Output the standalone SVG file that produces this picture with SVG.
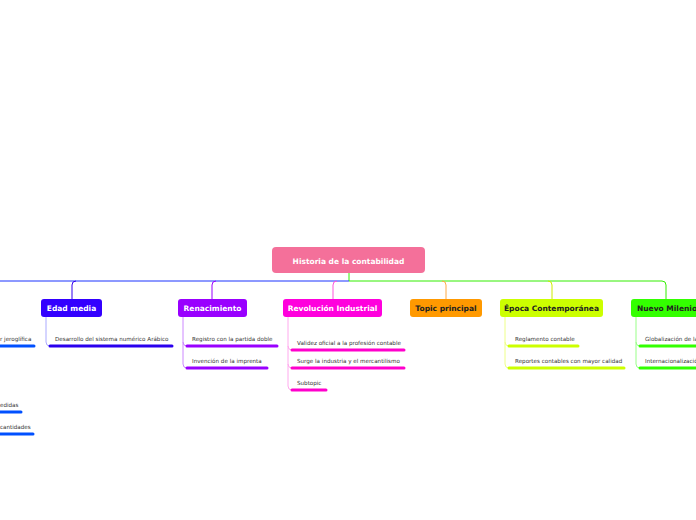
<svg xmlns="http://www.w3.org/2000/svg" width="696" height="520" viewBox="0 0 696 520">
<style>
.n{font-family:"DejaVu Sans",sans-serif;font-weight:bold;font-size:7.5px;text-anchor:middle}
.s{font-family:"DejaVu Sans",sans-serif;font-size:5.6px;fill:#333}
.c{fill:none;stroke-width:1}
.u{fill:none;stroke-width:3;stroke-linecap:round}
</style>
<rect width="696" height="520" fill="#fff"/>
<g id="connectors">
<path class="c" stroke="#33ee00" d="M349 273V281M349 281H662q4 0 4 4V299"/>
<path class="c" stroke="#1a33ff" d="M0 281H349"/>
<path class="c" stroke="#3300ee" d="M76 281q-4 0-4 4V299"/>
<path class="c" stroke="#9900ff" d="M216 281q-4 0-4 4V299"/>
<path class="c" stroke="#ff55dd" d="M337 281q-4 0-4 4V299"/>
<path class="c" stroke="#ffaa44" d="M442 281q4 0 4 4V299"/>
<path class="c" stroke="#ccee00" d="M548 281q4 0 4 4V299"/>
<path class="c" stroke="#aaaaff" d="M46 317V342q0 4 4 4"/>
<path class="u" stroke="#2a00ee" d="M50 346H172"/>
<path class="c" stroke="#cc88ff" d="M183 317V364q0 4 4 4M183 342q0 4 4 4"/>
<path class="u" stroke="#9900ff" d="M187 346H277M187 368H267"/>
<path class="c" stroke="#ffaaee" d="M288 317V386q0 4 4 4M288 346q0 4 4 4M288 364q0 4 4 4"/>
<path class="u" stroke="#ff00cc" d="M292 350H404M292 368H404M292 390H326"/>
<path class="c" stroke="#eeff88" d="M505 317V364q0 4 4 4M505 342q0 4 4 4"/>
<path class="u" stroke="#ccff00" d="M509 346H578M509 368H624"/>
<path class="c" stroke="#99ff88" d="M636 317V364q0 4 4 4M636 342q0 4 4 4"/>
<path class="u" stroke="#33ff00" d="M640 346H700M640 368H700"/>
<path class="u" stroke="#0050ff" d="M-2 346H34M-2 412H21M-2 434H33"/>
</g>
<g id="root"><rect x="272" y="247" width="153" height="26" rx="4" fill="#f4709a"/><text class="n" x="348.5" y="264" fill="#fff" font-size="9">Historia de la contabilidad</text></g>
<g id="edad"><rect x="41" y="299" width="61" height="18" rx="3" fill="#3300ff"/><text class="n" x="71.5" y="311" fill="#fff">Edad media</text></g>
<g id="ren"><rect x="178" y="299" width="69" height="18" rx="3" fill="#9900ff"/><text class="n" x="212.5" y="311" fill="#fff">Renacimiento</text></g>
<g id="rev"><rect x="283" y="299" width="99" height="18" rx="3" fill="#ff00dd"/><text class="n" x="332.5" y="311" fill="#fff">Revolución Industrial</text></g>
<g id="topic"><rect x="410" y="299" width="72" height="18" rx="3" fill="#ff9900"/><text class="n" x="446" y="311" fill="#222">Topic principal</text></g>
<g id="epoca"><rect x="500" y="299" width="103" height="18" rx="3" fill="#ccff00"/><text class="n" x="551.5" y="311" fill="#222">Época Contemporánea</text></g>
<g id="nuevo"><rect x="631" y="299" width="72" height="18" rx="3" fill="#33ff00"/><text class="n" x="667" y="311" fill="#222">Nuevo Milenio</text></g>
<g id="subs">
<text class="s" x="55" y="341">Desarrollo del sistema numérico Arábico</text>
<text class="s" x="192" y="341">Registro con la partida doble</text>
<text class="s" x="192" y="363">Invención de la imprenta</text>
<text class="s" x="297" y="345">Validez oficial a la profesión contable</text>
<text class="s" x="297" y="363">Surge la industria y el mercantilismo</text>
<text class="s" x="297" y="385">Subtopic</text>
<text class="s" x="515" y="341">Reglamento contable</text>
<text class="s" x="515" y="363">Reportes contables con mayor calidad</text>
<text class="s" x="645" y="341">Globalización de la</text>
<text class="s" x="645" y="363">Internacionalizació</text>
<text class="s" x="0" y="341">r jeroglífica</text>
<text class="s" x="0" y="407">edidas</text>
<text class="s" x="0" y="429">cantidades</text>
</g>
</svg>
